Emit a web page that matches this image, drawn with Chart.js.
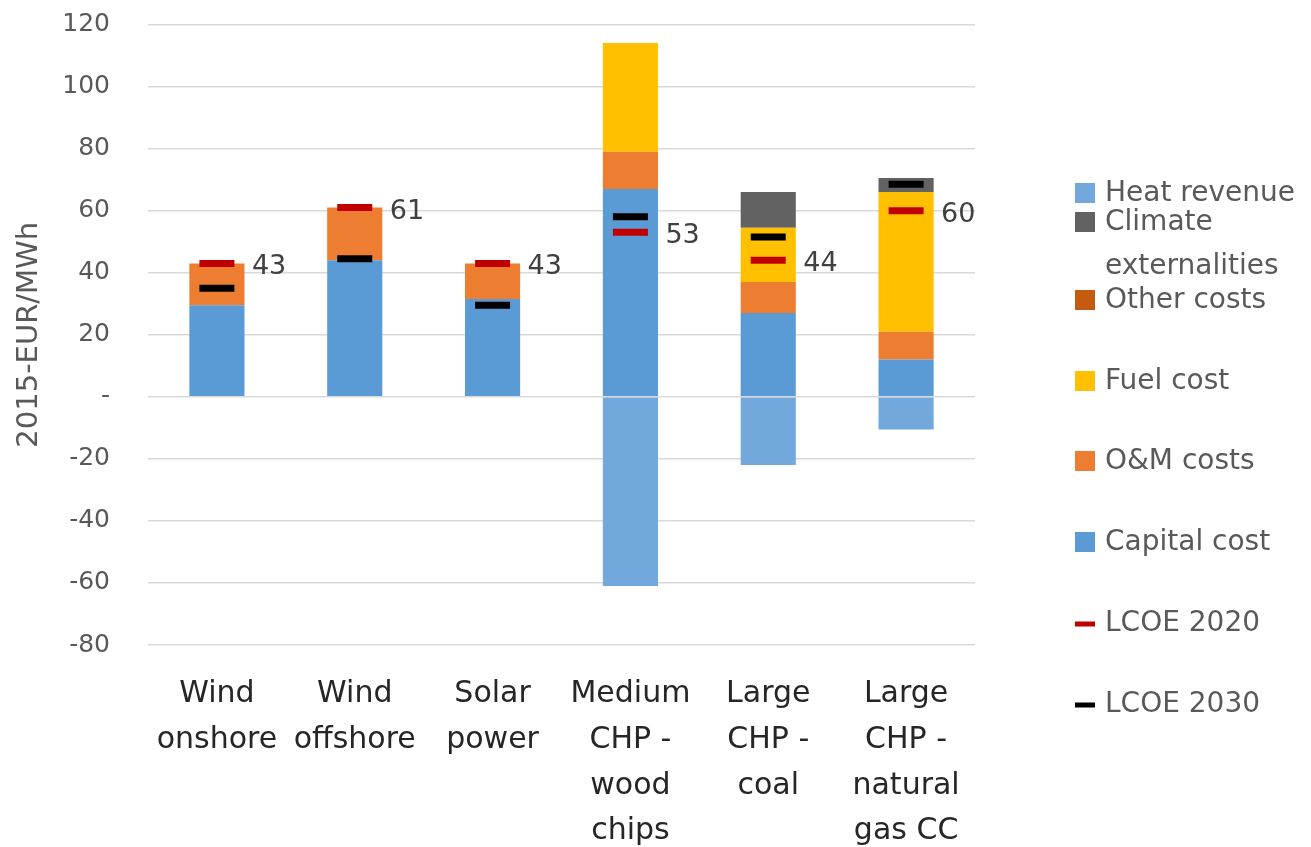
<!DOCTYPE html>
<html>
<head>
<meta charset="utf-8">
<script src="https://cdn.jsdelivr.net/npm/chart.js@4.4.1/dist/chart.umd.min.js"></script>
<style>
  html, body { margin: 0; padding: 0; background: #ffffff; }
  #wrap { position: relative; width: 1311px; height: 847px; }
  canvas { display: block; }
</style>
</head>
<body>
<div id="wrap"><canvas id="lcoe" width="1311" height="847"></canvas></div>
<script>
// Technologies on the category axis (multi-line labels)
const categories = [
  ["Wind", "onshore"],
  ["Wind", "offshore"],
  ["Solar", "power"],
  ["Medium", "CHP -", "wood", "chips"],
  ["Large", "CHP -", "coal"],
  ["Large", "CHP -", "natural", "gas CC"]
];

// Cost components, 2015-EUR/MWh
const capitalCost   = [29.5, 44, 31.5, 67, 27, 12];
const omCosts       = [13.5, 17, 11.5, 12, 10, 9];
const otherCosts    = [0, 0, 0, 0, 0, 0];
const fuelCost      = [0, 0, 0, 35, 17.5, 45];
const climateExt    = [0, 0, 0, 0, 11.5, 4.5];
const heatRevenue   = [0, 0, 0, -61, -22, -10.5];

// Levelised cost of electricity markers
const lcoe2020 = [43, 61, 43, 53, 44, 60];
const lcoe2030 = [35, 44.5, 29.5, 58, 51.5, 68.5];

// Value axis ticks
const yTicks = [-80, -60, -40, -20, 0, 20, 40, 60, 80, 100, 120];

const FONT = "'DejaVu Sans', 'Open Sans', sans-serif";

const COLORS = {
  heat: '#72A8DC',
  climate: '#626262',
  other: '#C55A11',
  fuel: '#FFC000',
  om: '#ED7D31',
  capital: '#5B9BD5',
  l2020: '#C00000',
  l2030: '#000000'
};

function barSet(label, data, color) {
  return {
    type: 'bar', label, data,
    backgroundColor: color, borderWidth: 0,
    order: 2, legendKind: 'box'
  };
}
function markerSet(label, data, color, stackKey) {
  return {
    type: 'line', label, data, stack: stackKey,
    showLine: false, borderColor: color, backgroundColor: color,
    pointStyle: 'line', pointRadius: 17.5, pointHoverRadius: 17.5,
    pointBorderWidth: 7, pointHoverBorderWidth: 7,
    order: 0, legendKind: 'line'
  };
}

const datasets = [
  barSet('Capital cost', capitalCost, COLORS.capital),
  barSet('O&M costs', omCosts, COLORS.om),
  barSet('Fuel cost', fuelCost, COLORS.fuel),
  barSet('Other costs', otherCosts, COLORS.other),
  barSet('Climate externalities', climateExt, COLORS.climate),
  barSet('Heat revenue', heatRevenue, COLORS.heat),
  markerSet('LCOE 2020', lcoe2020, COLORS.l2020, 'm2020'),
  markerSet('LCOE 2030', lcoe2030, COLORS.l2030, 'm2030')
];

// Legend rows listed top to bottom, with the text centre of each row
const legendOrder = ['Heat revenue', 'Climate externalities', 'Other costs', 'Fuel cost',
                     'O&M costs', 'Capital cost', 'LCOE 2020', 'LCOE 2030'];
const legendRowY  = [194, 223, 301, 382, 462, 543, 624, 705];

// Writes the LCOE 2020 value beside each technology
const valueLabels = {
  id: 'valueLabels',
  afterDatasetsDraw(chart) {
    const idx = chart.data.datasets.findIndex(d => d.label === 'LCOE 2020');
    const meta = chart.getDatasetMeta(idx);
    const ctx = chart.ctx;
    ctx.save();
    ctx.font = `27px ${FONT}`;
    ctx.fillStyle = '#404040';
    ctx.textAlign = 'left';
    ctx.textBaseline = 'middle';
    meta.data.forEach((pt, i) => {
      const v = chart.data.datasets[idx].data[i];
      ctx.fillText(String(v), pt.x + 35, pt.y + 4);
    });
    ctx.restore();
  }
};

// Vertical legend on the right-hand side
const sideLegend = {
  id: 'sideLegend',
  afterDraw(chart) {
    const ctx = chart.ctx;
    const swX = 1075, sw = 20, textX = 1105, maxW = 205, lineH = 44;
    ctx.save();
    ctx.font = `28px ${FONT}`;
    ctx.textBaseline = 'middle';
    ctx.textAlign = 'left';
    legendOrder.forEach((name, r) => {
      const ds = chart.data.datasets.find(d => d.label === name);
      const y = legendRowY[r];
      if (ds.legendKind === 'line') {
        ctx.fillStyle = ds.borderColor;
        ctx.fillRect(swX, y - 2.5, sw, 5);
      } else {
        ctx.fillStyle = ds.backgroundColor;
        ctx.fillRect(swX, y - sw / 2 - 1, sw, sw);
      }
      // wrap long labels onto further lines
      const words = name.split(' ');
      const lines = [];
      let cur = '';
      words.forEach(w => {
        const test = cur ? cur + ' ' + w : w;
        if (ctx.measureText(test).width > maxW && cur) { lines.push(cur); cur = w; }
        else cur = test;
      });
      lines.push(cur);
      ctx.fillStyle = '#595959';
      lines.forEach((t, k) => ctx.fillText(t, textX, y + k * lineH));
    });
    ctx.restore();
  }
};

new Chart(document.getElementById('lcoe'), {
  type: 'bar',
  data: { labels: categories, datasets },
  options: {
    responsive: false,
    animation: false,
    events: [],
    layout: { padding: { left: 8, right: 336, top: 24, bottom: 0 } },
    datasets: {
      bar: { categoryPercentage: 1, barPercentage: 0.4 }
    },
    plugins: {
      legend: { display: false },
      tooltip: { enabled: false }
    },
    scales: {
      x: {
        stacked: true,
        grid: { display: false },
        border: { display: false },
        ticks: {
          autoSkip: false, maxRotation: 0, minRotation: 0,
          padding: 18,
          color: '#262626',
          font: { family: FONT, size: 30, lineHeight: 1.53 }
        },
        afterFit(scale) {
          scale.height = 202;
          scale.paddingLeft = 0;
          scale.paddingRight = 0;
        }
      },
      y: {
        stacked: true,
        min: -80, max: 120,
        afterBuildTicks(scale) { scale.ticks = yTicks.map(v => ({ value: v })); },
        grid: { color: '#D9D9D9', lineWidth: 1.5, drawTicks: false },
        border: { display: false },
        ticks: {
          padding: 38,
          color: '#595959',
          font: { family: FONT, size: 25 },
          callback: v => (v === 0 ? '-' : String(v))
        },
        title: {
          display: true,
          text: '2015-EUR/MWh',
          color: '#595959',
          font: { family: FONT, size: 29 },
          padding: { top: 4, bottom: 0 }
        },
        afterFit(scale) {
          scale.width = 140;
          scale.paddingTop = 0;
          scale.paddingBottom = 0;
        }
      }
    }
  },
  plugins: [valueLabels, sideLegend]
});
</script>
</body>
</html>
